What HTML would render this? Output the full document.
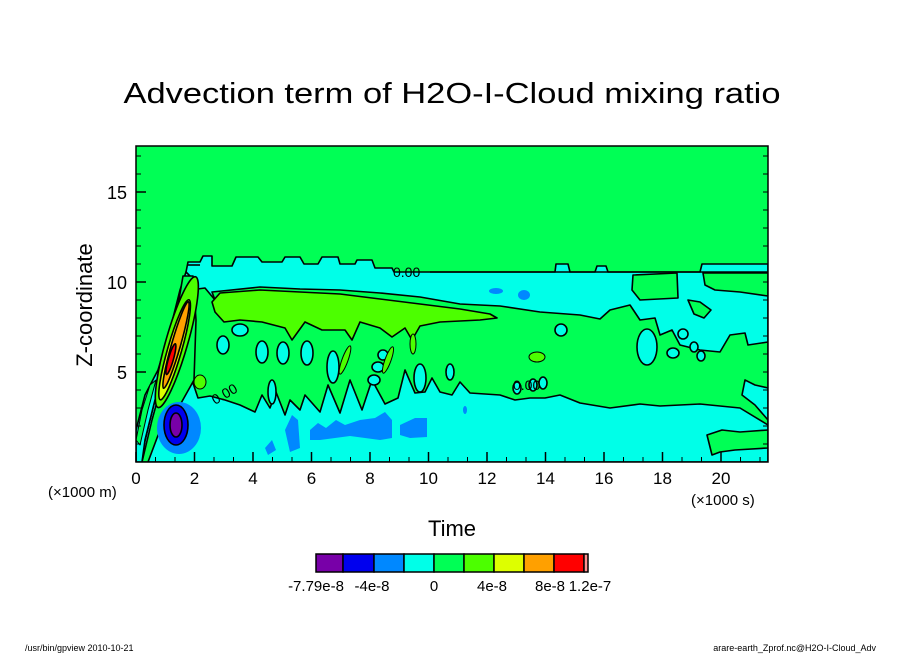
<!DOCTYPE html>
<html><head><meta charset="utf-8"><style>
html,body{margin:0;padding:0;background:#fff}
svg{display:block}
text{font-family:"Liberation Sans",sans-serif}
</style></head><body>
<svg id="chart" width="904" height="654" viewBox="0 0 904 654">
<defs><clipPath id="pc"><rect x="136" y="146" width="632" height="316"/></clipPath></defs>
<text x="452" y="103" text-anchor="middle" font-size="29" textLength="657" lengthAdjust="spacingAndGlyphs" fill="#000">Advection term of H2O-I-Cloud mixing ratio</text>
<g clip-path="url(#pc)" stroke="#000" stroke-width="1.6" stroke-linejoin="round">
 <rect x="136" y="146" width="632" height="316" fill="#00ff55" stroke="none"/>
 <polygon fill="#00ffe8" points="186,272 188,262 200,262 203,256 212,256 212,266 232,266 236,257 258,257 262,262 282,262 285,257 300,257 304,264 318,264 322,257 338,257 340,264 355,264 357,260 372,260 375,268 392,268 394,272 555,272 556,264 568,264 570,272 595,272 597,266 606,266 608,272 700,272 702,264 768,264 768,462 140,462 150,420 160,380 172,330"/>
 <path fill="#00ff55" d="M190,290 L205,288 L215,300 L212,292 L260,287 L300,289 L340,290 L380,293 L420,297 L460,304 L500,306 L540,312 L580,315 L600,319 L610,310 L630,305 L640,320 L655,318 L660,335 L672,330 L680,345 L700,350 L720,352 L730,335 L745,333 L748,345 L768,342 L768,388 L755,385 L745,380 L742,395 L755,405 L768,420 L768,425 L740,408 L700,404 L660,406 L640,404 L610,408 L580,403 L560,395 L545,398 L530,398 L515,400 L500,395 L470,393 L460,382 L452,395 L440,392 L432,378 L425,392 L415,393 L405,370 L398,398 L385,404 L372,380 L362,410 L350,380 L340,413 L328,385 L320,412 L305,395 L300,410 L290,400 L285,415 L276,392 L270,408 L262,395 L255,412 L240,405 L225,400 L210,396 L198,398 L192,380 L192,330 Z"/>
 <polygon fill="#00ffe8" points="136,462 136,430 145,395 158,370 170,330 180,290 186,272 190,276 178,320 168,360 155,400 145,440 142,462"/>
 <polygon fill="#00ff55" points="183,276 193,276 196,320 194,380 180,405 160,430 148,462 142,462 152,420 163,380 172,340"/>
 <polygon fill="#00ff55" stroke-width="1" points="136,440 142,410 150,385 156,380 148,410 140,445"/>
 <polygon fill="#00ff55" points="633,275 677,273 678,298 640,300 632,290"/>
 <polygon fill="#00ff55" points="703,273 768,273 768,296 740,292 715,290 705,285"/>
 <polygon fill="#00ff55" points="688,300 700,302 711,310 704,318 694,314"/>
 <polygon fill="#00ff55" points="707,435 722,430 740,432 768,430 768,448 735,450 720,452 712,455"/>
 <g fill="#00ffe8">
  <ellipse cx="223" cy="345" rx="6" ry="9"/><ellipse cx="262" cy="352" rx="6" ry="11"/><ellipse cx="283" cy="353" rx="6" ry="11"/>
  <ellipse cx="307" cy="353" rx="6" ry="12"/><ellipse cx="333" cy="367" rx="6" ry="16"/><ellipse cx="383" cy="355" rx="5" ry="5"/>
  <ellipse cx="378" cy="367" rx="6" ry="5"/><ellipse cx="374" cy="380" rx="6" ry="5"/><ellipse cx="272" cy="392" rx="4" ry="12"/>
  <ellipse cx="561" cy="330" rx="6" ry="6"/><ellipse cx="647" cy="347" rx="10" ry="18"/><ellipse cx="673" cy="353" rx="6" ry="5"/>
  <ellipse cx="683" cy="334" rx="5" ry="5"/><ellipse cx="694" cy="347" rx="4" ry="5"/><ellipse cx="701" cy="356" rx="4" ry="5"/>
  <ellipse cx="517" cy="388" rx="4" ry="6"/><ellipse cx="533" cy="385" rx="4" ry="6"/><ellipse cx="543" cy="383" rx="4" ry="6"/>
  <ellipse cx="420" cy="378" rx="6" ry="14"/><ellipse cx="450" cy="372" rx="4" ry="8"/><ellipse cx="240" cy="330" rx="8" ry="6"/>
 </g>
 <polygon fill="#4cff00" points="212,302 220,293 260,290 300,292 340,294 380,299 420,304 460,309 490,314 497,318 480,320 440,322 420,326 412,340 405,328 392,337 380,328 360,322 352,340 345,330 322,330 305,322 292,340 285,328 262,322 240,320 224,322 215,312"/>
 <g fill="#4cff00" stroke-width="1">
  <ellipse cx="345" cy="360" rx="3" ry="15" transform="rotate(20 345 360)"/><ellipse cx="388" cy="360" rx="3" ry="14" transform="rotate(20 388 360)"/>
  <ellipse cx="537" cy="357" rx="8" ry="5"/><ellipse cx="200" cy="382" rx="6" ry="7"/><ellipse cx="413" cy="344" rx="3" ry="10"/>
 </g>
 <g transform="rotate(16 176 345)">
  <ellipse cx="176" cy="342" rx="11" ry="68" fill="#4cff00"/>
  <ellipse cx="176" cy="350" rx="7" ry="52" fill="#ddff00"/>
  <ellipse cx="176" cy="345" rx="4.5" ry="45" fill="#ffa000"/>
  <ellipse cx="175" cy="360" rx="2.5" ry="16" fill="#ff0000"/>
 </g>
 <ellipse cx="179" cy="428" rx="22" ry="26" fill="#0088ff" stroke="none"/>
 <ellipse cx="176" cy="425" rx="12" ry="20" fill="#0000ee"/>
 <ellipse cx="176" cy="425" rx="6" ry="12" fill="#7800a8"/>
 <g fill="#0088ff" stroke="none">
  <polygon points="285,430 292,415 298,420 300,448 290,452"/>
  <polygon points="310,430 318,423 326,428 336,420 345,425 360,420 375,418 385,412 392,420 392,438 380,440 365,438 350,436 335,438 320,440 310,440"/>
  <polygon points="400,425 415,418 427,418 427,437 410,438 400,435"/>
  <polygon points="265,448 272,440 276,450 268,455"/>
  <ellipse cx="496" cy="291" rx="7" ry="3"/><ellipse cx="524" cy="295" rx="6" ry="5"/><ellipse cx="465" cy="410" rx="2" ry="4"/>
 </g>
 <line x1="430" y1="272" x2="768" y2="272"/>
 <line x1="188" y1="265" x2="200" y2="265"/>
 <text x="393" y="277" font-size="14" stroke="none" fill="#000">0.00</text>
 <text x="513" y="390" font-size="14" stroke="none" fill="#000">0.00</text>
 <text x="215" y="405" font-size="14" stroke="none" fill="#000" transform="rotate(-30 215 405)">0.00</text>
</g>
<rect x="136" y="146" width="632" height="316" fill="none" stroke="#000" stroke-width="1.5"/>
<g id="axes"></g>
<text x="48" y="497" font-size="15">(×1000 m)</text>
<text x="691" y="505" font-size="15">(×1000 s)</text>
<text x="452" y="536" text-anchor="middle" font-size="22">Time</text>
<text x="92" y="305" text-anchor="middle" font-size="22" transform="rotate(-90 92 305)">Z-coordinate</text>
<g id="cbar"></g>
<text x="25" y="651" font-size="9">/usr/bin/gpview   2010-10-21</text>
<text x="876" y="651" font-size="9" text-anchor="end">arare-earth_Zprof.nc@H2O-I-Cloud_Adv</text>
</svg>
<script>
const xTicks=[0,2,4,6,8,10,12,14,16,18,20];
const yTicks=[5,10,15];
const cbColors=["#7800a8","#0000ee","#0088ff","#00ffe8","#00ff55","#4cff00","#ddff00","#ffa000","#ff0000"];
const cbLabels=["-7.79e-8","-4e-8","0","4e-8","8e-8","1.2e-7"];
const cbLabelX=[316,372,434,492,550,590];
const NS="http://www.w3.org/2000/svg";
const X=t=>136+29.25*t, Y=z=>462-18*z;
const ax=document.getElementById('axes');
function mk(tag,attrs,parent){const e=document.createElementNS(NS,tag);for(const k in attrs)e.setAttribute(k,attrs[k]);parent.appendChild(e);return e;}
for(let t=0;t<=21.6;t+=2/3){const x=X(t);
 const l=mk('line',{x1:x,y1:462,x2:x,y2:457,stroke:'#000','stroke-width':1},ax);
 
 }
for(let z=0;z<=17.5;z+=1){const y=Y(z);
 const l=mk('line',{x1:136,y1:y,x2:141,y2:y,stroke:'#000','stroke-width':1},ax);
 
 
 const r=mk('line',{x1:768,y1:y,x2:763,y2:y,stroke:'#000','stroke-width':1},ax);
 
 }
xTicks.forEach(t=>{const x=X(t);
 const l=mk('line',{x1:x,y1:462,x2:x,y2:452,stroke:'#000','stroke-width':1.5},ax);
 
 
 const tx=mk('text',{x:x,y:484,'font-size':17,'text-anchor':'middle'},ax);tx.textContent=t;
 
 });
yTicks.forEach(z=>{const y=Y(z);
 const l=mk('line',{x1:136,y1:y,x2:146,y2:y,stroke:'#000','stroke-width':1.5},ax);
 
 
 const tx=mk('text',{x:127,y:y+7,'font-size':18,'text-anchor':'end'},ax);tx.textContent=z;
 
 });
const cb=document.getElementById('cbar');
const bounds=[316,343,374,404,434,464,494,524,554,584];
cbColors.forEach((c,i)=>{const r=mk('rect',{x:bounds[i],y:554,width:bounds[i+1]-bounds[i],height:18,fill:c,stroke:'#000','stroke-width':1.5},cb);
 
 });
const pk=mk('rect',{x:584,y:554,width:4,height:18,fill:'#ff9090',stroke:'#000','stroke-width':1.5},cb);


cbLabels.forEach((s,i)=>{const t=mk('text',{x:cbLabelX[i],y:591,'font-size':15,'text-anchor':'middle'},cb);t.textContent=s;
 
 });
</script>
</body></html>
